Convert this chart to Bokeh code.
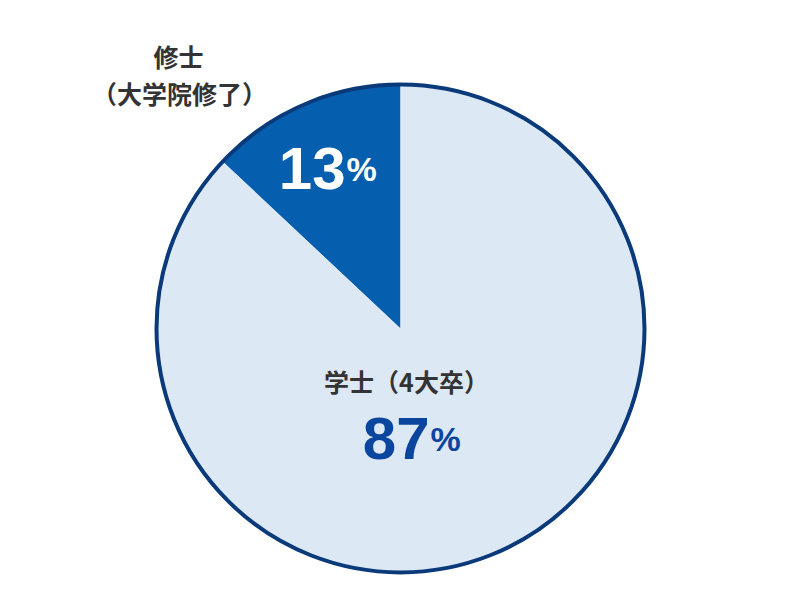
import math
from bokeh.plotting import figure
from bokeh.models import Range1d
from bokeh.core.properties import value
from bokeh.embed import file_html
from bokeh.resources import INLINE

categories = ["修士（大学院修了）", "学士（4大卒）"]
values = [13, 87]
colors = ["#065eae", "#dde8f5"]

W, H = 784, 584
p = figure(width=W, height=H, output_backend="svg", toolbar_location=None,
           x_range=Range1d(0, W), y_range=Range1d(0, H), min_border=0)
p.axis.visible = False
p.grid.visible = False
p.outline_line_color = None
p.background_fill_color = "white"
p.border_fill_color = "white"

def Y(y):
    return H - y

cx, cy, r = 400, Y(328), 244
total = sum(values)
start = math.pi / 2
for v, c in zip(values, colors):
    end = start + 2 * math.pi * v / total
    p.wedge(x=[cx], y=[cy], radius=r, start_angle=start, end_angle=end,
            fill_color=c, line_color=None)
    start = end
p.circle(x=[cx], y=[cy], radius=r, fill_color=None, line_color="#0a3a7a", line_width=4)

JP = value("Noto Sans CJK JP")
NUM = value("Liberation Sans")

p.text(x=[178], y=[Y(55)], text=["修士"], text_font=JP, text_font_style="bold",
       text_font_size="25px", text_color="#333333", text_align="center", text_baseline="middle")
p.text(x=[179], y=[Y(92)], text=["（大学院修了）"], text_font=JP, text_font_style="bold",
       text_font_size="25px", text_color="#333333", text_align="center", text_baseline="middle")

p.text(x=[345], y=[Y(168)], text=[f"{values[0]}"], text_font=NUM, text_font_style="bold",
       text_font_size="60px", text_color="white", text_align="right", text_baseline="alphabetic")
p.text(x=[346], y=[Y(168)], text=["%"], text_font=NUM, text_font_style="bold",
       text_font_size="34px", text_color="white", text_align="left", text_baseline="alphabetic")

p.text(x=[406], y=[Y(380)], text=["学士（4大卒）"], text_font=JP, text_font_style="bold",
       text_font_size="25px", text_color="#333333", text_align="center", text_baseline="middle")
p.text(x=[429], y=[Y(438)], text=[f"{values[1]}"], text_font=NUM, text_font_style="bold",
       text_font_size="60px", text_color="#0a469e", text_align="right", text_baseline="alphabetic")
p.text(x=[430], y=[Y(438)], text=["%"], text_font=NUM, text_font_style="bold",
       text_font_size="34px", text_color="#0a469e", text_align="left", text_baseline="alphabetic")

open("out.html", "w").write(file_html(p, INLINE))
